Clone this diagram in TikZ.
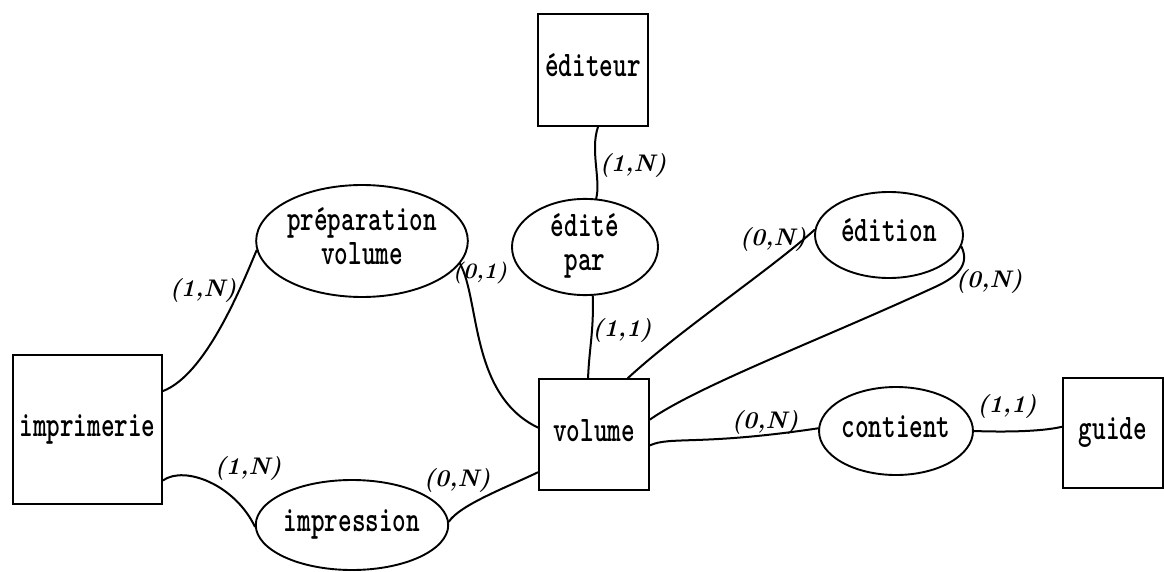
\documentclass[tikz,border=0pt]{standalone}
\usepackage{fontspec}
\usepackage{graphicx}
\usetikzlibrary{shapes.geometric}

% narrow, tall typewriter text for entity and relationship names
\newcommand\ertext[1]{\scalebox{0.72}[1]{\begin{tabular}{@{}c@{}}#1\end{tabular}}}

\begin{document}
\begin{tikzpicture}[x=1pt,y=-1pt,line width=1.9pt,
  entity/.style={draw,rectangle,inner sep=0pt,
    font=\fontsize{36}{34}\selectfont\ttfamily\bfseries},
  assoc/.style={draw,ellipse,inner sep=0pt,
    font=\fontsize{36}{34}\selectfont\ttfamily\bfseries},
  card/.style={inner sep=0pt,font=\fontsize{24}{26}\selectfont\bfseries\itshape},
  link/.style={line width=2pt,line cap=round}]

\useasboundingbox (0,0) rectangle (1164,572);

% entities
\node[entity,minimum width=110pt,minimum height=112pt] (editeur)    at (593,70)    {\ertext{éditeur}};
\node[entity,minimum width=149pt,minimum height=149pt] (imprimerie) at (87.5,429.5) {\ertext{imprimerie}};
\node[entity,minimum width=110pt,minimum height=111pt] (volume)     at (594,434.5) {\ertext{volume}};
\node[entity,minimum width=100pt,minimum height=110pt] (guide)      at (1113,433)  {\ertext{guide}};

% relationships
\node[assoc,minimum width=194pt,minimum height=112pt] (prep)       at (362,241) {\ertext{préparation\\volume}};
\node[assoc,minimum width=146pt,minimum height=88pt]  (edite)      at (585,247) {\ertext{édité\\par}};
\node[assoc,minimum width=148pt,minimum height=86pt]  (edition)    at (889,235) {\ertext{édition}};
\node[assoc,minimum width=146pt,minimum height=88pt]  (contient)   at (896,431) {\ertext{contient}};
\node[assoc,minimum width=162pt,minimum height=90pt]  (impression) at (352,525) {\ertext{impression}};

% links
\draw[link] (editeur.-85) .. controls (590,150) and (601,180) .. (edite.77);
\draw[link] (edite.-81) .. controls (594,330) and (589,350) .. (volume.96);
\draw[link] (edition.176) .. controls (770,270) and (680,330) .. (volume.59);
\draw[link] (edition.-9) .. controls (972,268) and (950,280) .. (935,287)
            .. controls (820,340) and (700,385) .. (volume.15);
\draw[link] (volume.-11) .. controls (670,436) and (700,446) .. (contient.178);
\draw[link] (contient.east) .. controls (1000,432) and (1040,432) .. (guide.173);
\draw[link] (imprimerie.27) .. controls (205,375) and (240,290) .. (prep.185);
\draw[link] (prep.-13) .. controls (480,300) and (470,395) .. (volume.173);
\draw[link] (imprimerie.-34) .. controls (185,465) and (235,485) .. (impression.181);
\draw[link] (impression.2) .. controls (460,505) and (505,488) .. (volume.-146);

% cardinalities
\node[card] (c1) at (633,165) {(1,N)};
\node[card] (c2) at (622,330) {(1,1)};
\node[card] (c3) at (773,239) {(0,N)};
\node[card] (c4) at (989,281) {(0,N)};
\node[card] (c5) at (765,422) {(0,N)};
\node[card] (c6) at (1007,406) {(1,1)};
\node[card] (c7) at (203,290) {(1,N)};
\node[card,font=\fontsize{22}{24}\selectfont\bfseries\itshape] (c8) at (480,273) {(0,1)};
\node[card] (c9) at (248,468) {(1,N)};
\node[card] (c10) at (457,480) {(0,N)};

\end{tikzpicture}
\end{document}
